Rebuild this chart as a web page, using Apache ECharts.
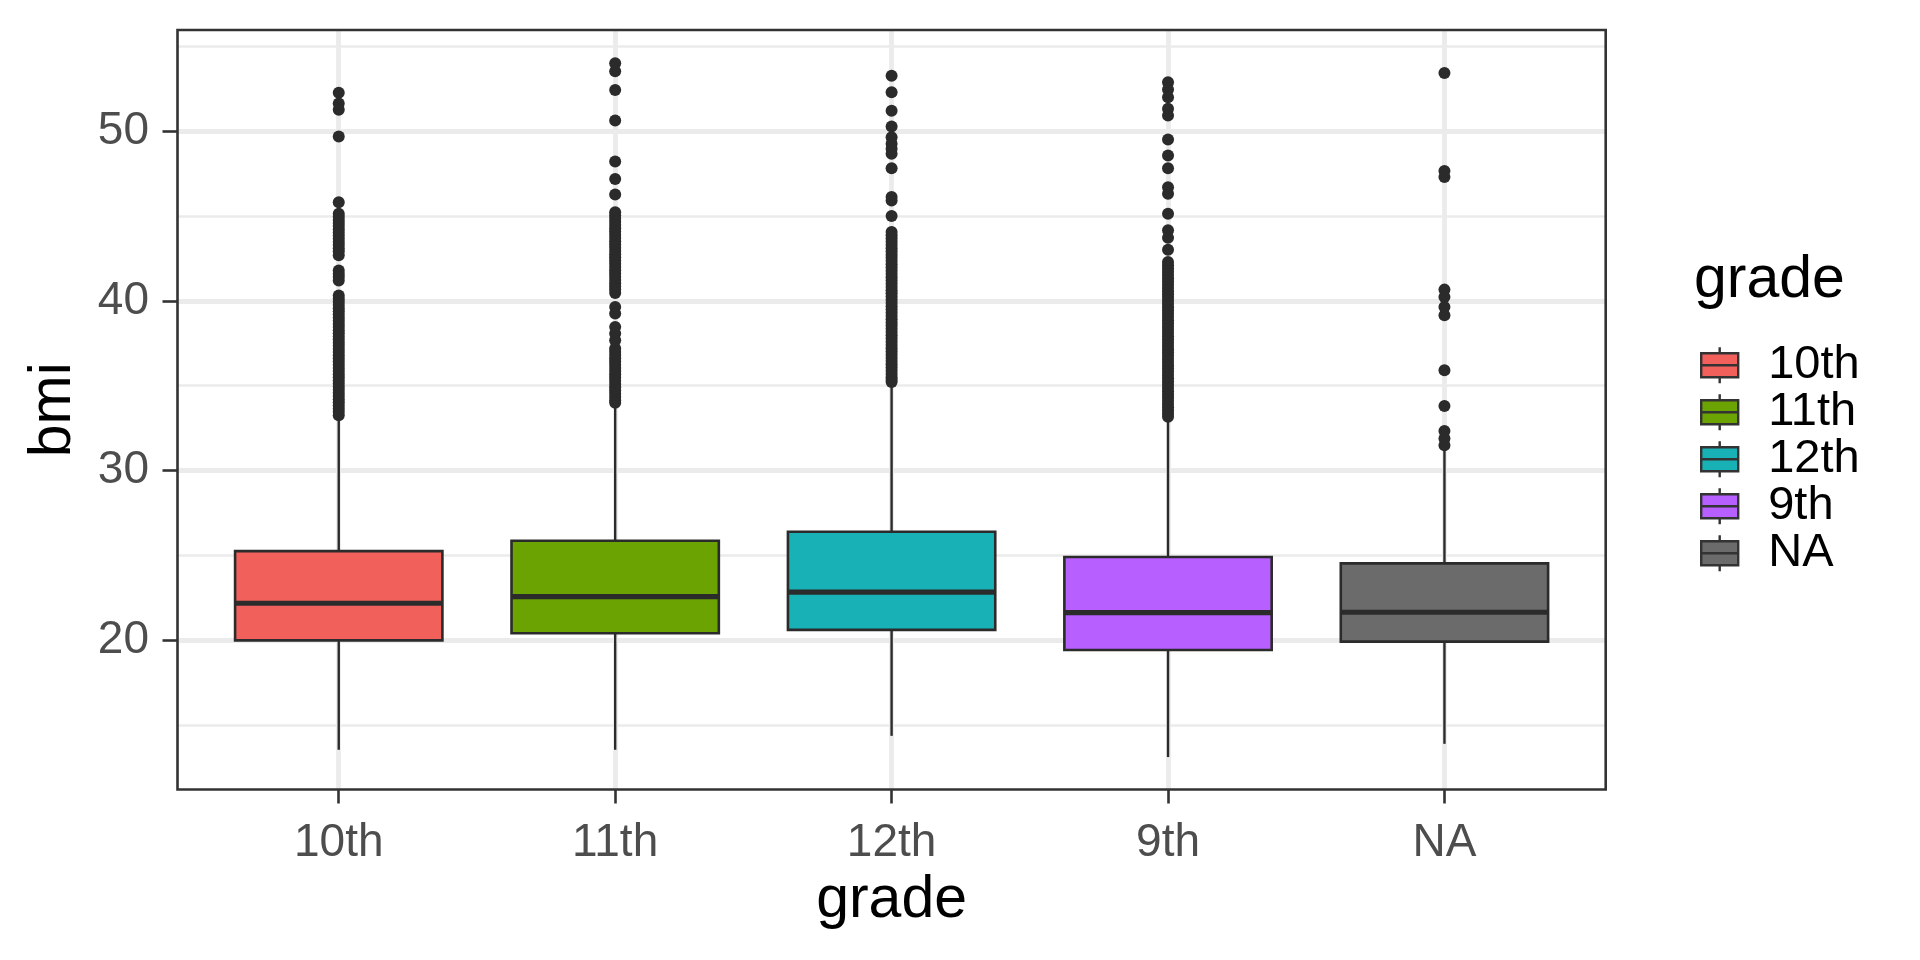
<!DOCTYPE html>
<html>
<head>
<meta charset="utf-8">
<script src="https://cdn.jsdelivr.net/npm/echarts@6/dist/echarts.min.js"></script>
<style>
html,body{margin:0;padding:0;background:#fff;}
#chart{width:1920px;height:960px;}
</style>
</head>
<body>
<div id="chart"></div>
<script>
// ---------- data ----------
const categories = ['10th', '11th', '12th', '9th', 'NA'];
const whiskerLow  = [13.56, 13.56, 14.38, 13.13, 13.91];
const quart1      = [20.00, 20.42, 20.62, 19.44, 19.93];
const medians     = [22.19, 22.58, 22.85, 21.64, 21.66];
const quart3      = [25.26, 25.87, 26.40, 24.91, 24.54];
const whiskerHigh = [33.10, 33.90, 35.00, 32.90, 31.30];
const boxColors   = ['#F2605C', '#6AA302', '#18B2B6', '#B75FFF', '#6B6B6B'];

const outliers10 = [52.26, 51.62, 51.25, 49.68, 45.81, 45.13, 44.95, 44.76, 44.58, 44.40, 44.21, 44.03, 43.84, 43.66, 43.47, 43.29, 43.10, 42.92, 42.68, 41.79, 41.58, 41.40, 41.20, 40.32, 40.12, 39.94, 39.75, 39.57, 39.38, 39.20, 39.01, 38.83, 38.64, 38.46, 38.27, 38.09, 37.90, 37.72, 37.53, 37.35, 37.16, 36.98, 36.79, 36.61, 36.42, 36.24, 36.05, 35.87, 35.68, 35.50, 35.31, 35.13, 34.94, 34.76, 34.57, 34.39, 34.20, 34.02, 33.83, 33.65, 33.46, 33.26];
const outliers11 = [53.99, 53.52, 52.42, 50.62, 48.21, 47.17, 46.26, 45.22, 45.03, 44.84, 44.65, 44.46, 44.27, 44.08, 43.89, 43.70, 43.51, 43.32, 43.13, 42.94, 42.75, 42.56, 42.37, 42.18, 41.99, 41.80, 41.61, 41.42, 41.23, 41.04, 40.85, 40.66, 40.46, 39.64, 39.25, 38.46, 38.07, 37.68, 37.19, 37.00, 36.81, 36.62, 36.43, 36.24, 36.05, 35.86, 35.67, 35.48, 35.29, 35.10, 34.91, 34.72, 34.53, 34.34, 34.15, 33.99];
const outliers12 = [53.26, 52.28, 51.20, 50.26, 49.64, 49.25, 48.95, 48.66, 47.81, 46.11, 45.91, 44.99, 44.05, 43.86, 43.67, 43.48, 43.29, 43.10, 42.91, 42.72, 42.53, 42.34, 42.15, 41.96, 41.77, 41.58, 41.39, 41.20, 41.01, 40.82, 40.63, 40.44, 40.25, 40.06, 39.87, 39.68, 39.49, 39.30, 39.11, 38.92, 38.73, 38.54, 38.35, 38.16, 37.97, 37.78, 37.59, 37.40, 37.21, 37.02, 36.83, 36.64, 36.45, 36.26, 36.07, 35.88, 35.69, 35.50, 35.35, 35.22];
const outliers9  = [52.87, 52.44, 51.99, 51.31, 50.91, 49.50, 48.56, 47.81, 46.69, 46.30, 45.13, 44.15, 43.72, 43.01, 42.28, 42.09, 41.90, 41.71, 41.52, 41.33, 41.14, 40.95, 40.76, 40.57, 40.38, 40.19, 40.00, 39.81, 39.62, 39.43, 39.24, 39.05, 38.86, 38.67, 38.48, 38.29, 38.10, 37.91, 37.72, 37.53, 37.34, 37.15, 36.96, 36.77, 36.58, 36.39, 36.20, 36.01, 35.82, 35.63, 35.44, 35.25, 35.06, 34.87, 34.68, 34.49, 34.30, 34.11, 33.92, 33.73, 33.54, 33.35, 33.17];
const outliersNA = [53.42, 47.64, 47.29, 40.66, 40.22, 39.64, 39.15, 35.91, 33.81, 32.34, 31.89, 31.50];
const outlierLists = [outliers10, outliers11, outliers12, outliers9, outliersNA];

const majorTicks = [20, 30, 40, 50];
const yMin = 11.22, yMax = 55.95;

// ---------- layout ----------
const FONT = '"Liberation Sans", Arial, Helvetica, sans-serif';
const INK = '#2b2b2b';
const GRIDC = '#EBEBEB';
const W = 1920, H = 960;
const panel = {left: 177.5, right: 1605.7, top: 30, bottom: 789.5};
const unit = (panel.right - panel.left) / (categories.length + 1.2);
const ypx = v => panel.top + (yMax - v) / (yMax - yMin) * (panel.bottom - panel.top);

const gridPanel = {left: panel.left, right: W - panel.right, top: panel.top, bottom: H - panel.bottom};
const gridData = {left: panel.left + 0.1 * unit, right: W - (panel.right - 0.1 * unit), top: panel.top, bottom: H - panel.bottom};
const gridMajor = {left: panel.left, right: W - panel.right, top: ypx(50), bottom: H - ypx(20)};
const gridMinor = {left: panel.left, right: W - panel.right, top: ypx(55), bottom: H - ypx(15)};

function renderBox(params, api) {
  const x = api.value(0);
  const lo = api.coord([x, api.value(1)]);
  const q1 = api.coord([x, api.value(2)]);
  const md = api.coord([x, api.value(3)]);
  const q3 = api.coord([x, api.value(4)]);
  const hi = api.coord([x, api.value(5)]);
  const bw = api.size([1, 0])[0] * 0.75;
  const cx = lo[0];
  const color = api.visual('color');
  return {
    type: 'group',
    children: [
      {type: 'line', shape: {x1: cx, y1: hi[1], x2: cx, y2: q3[1]}, style: {stroke: INK, lineWidth: 2.4}},
      {type: 'line', shape: {x1: cx, y1: q1[1], x2: cx, y2: lo[1]}, style: {stroke: INK, lineWidth: 2.4}},
      {type: 'rect', shape: {x: cx - bw / 2, y: q3[1], width: bw, height: q1[1] - q3[1]},
       style: {fill: color, stroke: INK, lineWidth: 2.6}},
      {type: 'line', shape: {x1: cx - bw / 2, y1: md[1], x2: cx + bw / 2, y2: md[1]},
       style: {stroke: INK, lineWidth: 5.2}}
    ]
  };
}

const series = [];
categories.forEach((c, i) => {
  series.push({
    name: c,
    type: 'custom',
    xAxisIndex: 1, yAxisIndex: 1,
    renderItem: renderBox,
    itemStyle: {color: boxColors[i]},
    encode: {x: 0, y: [1, 2, 3, 4, 5]},
    data: [[i, whiskerLow[i], quart1[i], medians[i], quart3[i], whiskerHigh[i]]],
    z: 3
  });
});
const outlierData = [];
outlierLists.forEach((list, i) => list.forEach(v => outlierData.push([i, v])));
series.push({
  name: 'outliers',
  type: 'scatter',
  xAxisIndex: 1, yAxisIndex: 1,
  symbol: 'circle',
  symbolSize: 12,
  itemStyle: {color: INK, opacity: 1},
  data: outlierData,
  z: 4
});

const hiddenX = (gi) => ({type: 'value', gridIndex: gi, min: 0, max: 1, show: false});

const option = {
  animation: false,
  backgroundColor: '#ffffff',
  textStyle: {fontFamily: FONT},
  grid: [
    Object.assign({show: true, borderColor: '#333333', borderWidth: 2.6, backgroundColor: 'transparent', z: 10}, gridPanel),
    gridData,
    gridMajor,
    gridMinor
  ],
  xAxis: [
    hiddenX(0),
    {
      type: 'category', gridIndex: 1, data: categories, boundaryGap: true,
      axisLine: {show: false},
      axisTick: {show: true, alignWithLabel: true, length: 14, lineStyle: {color: '#333333', width: 2.6}},
      axisLabel: {show: true, margin: 31, fontSize: 46, color: '#4D4D4D', fontFamily: FONT},
      splitLine: {show: true, alignWithLabel: true, interval: 0, lineStyle: {color: GRIDC, width: 4.8}},
      name: 'grade', nameLocation: 'middle', nameGap: 80,
      nameTextStyle: {fontSize: 59, color: '#000000', fontFamily: FONT}
    },
    hiddenX(2),
    hiddenX(3)
  ],
  yAxis: [
    {
      type: 'value', gridIndex: 0, min: yMin, max: yMax,
      axisLine: {show: false}, axisTick: {show: false}, axisLabel: {show: false}, splitLine: {show: false},
      name: 'bmi', nameLocation: 'middle', nameGap: 94,
      nameTextStyle: {fontSize: 59, color: '#000000', fontFamily: FONT}
    },
    {
      type: 'value', gridIndex: 1, min: yMin, max: yMax,
      axisLine: {show: false}, axisTick: {show: false}, axisLabel: {show: false}, splitLine: {show: false}
    },
    {
      type: 'value', gridIndex: 2, min: majorTicks[0], max: majorTicks[majorTicks.length - 1], interval: 10,
      axisLine: {show: false},
      axisTick: {show: true, length: 15, lineStyle: {color: '#333333', width: 2.6}},
      axisLabel: {show: true, margin: 28.5, fontSize: 46, color: '#4D4D4D', fontFamily: FONT},
      splitLine: {show: true, lineStyle: {color: GRIDC, width: 4.8}}
    },
    {
      type: 'value', gridIndex: 3, min: 15, max: 55, interval: 10,
      axisLine: {show: false}, axisTick: {show: false}, axisLabel: {show: false},
      splitLine: {show: true, lineStyle: {color: GRIDC, width: 2.5}}
    }
  ],
  legend: {
    data: categories,
    orient: 'vertical',
    left: 1695, top: 336.7,
    itemWidth: 37, itemHeight: 36, itemGap: 0,
    selectedMode: false,
    icon: 'path://M18.5,0L18.5,6M0,6L37,6L37,30L0,30ZM0,18L37,18M18.5,30L18.5,36',
    itemStyle: {borderColor: '#333333', borderWidth: 2.4},
    textStyle: {fontSize: 47, lineHeight: 46, color: '#000000', fontFamily: FONT, padding: [0, 0, 0, 25]}
  },
  graphic: [
    {type: 'text', x: 1694, y: 281, style: {text: 'grade', font: '59px ' + FONT, fill: '#000000', align: 'left', verticalAlign: 'middle'}}
  ],
  series: series
};

const chart = echarts.init(document.getElementById('chart'), null, {renderer: 'canvas', width: W, height: H});
chart.setOption(option);
</script>
</body>
</html>
